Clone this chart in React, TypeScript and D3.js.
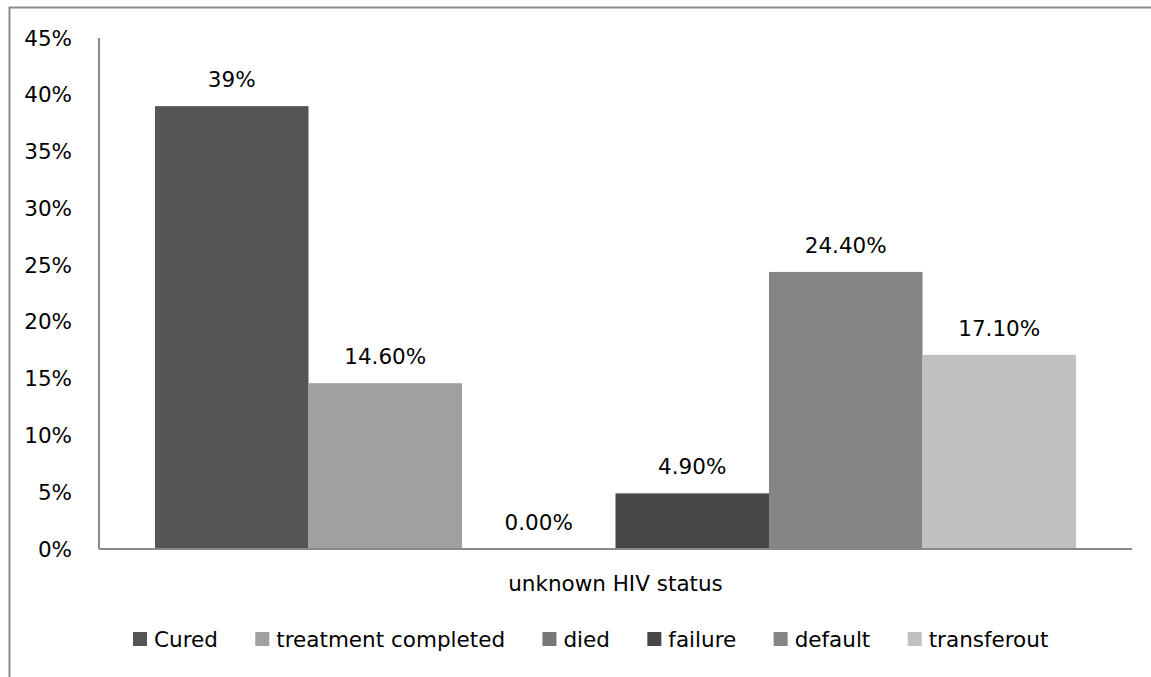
import React from "react";
import * as d3 from "d3";

const categories = ["unknown HIV status"];
const seriesNames = ["Cured", "treatment completed", "died", "failure", "default", "transferout"];
const seriesValues = [0.39, 0.146, 0.0, 0.049, 0.244, 0.171];
const valueLabels = ["39%", "14.60%", "0.00%", "4.90%", "24.40%", "17.10%"];
const seriesColors = ["#555555", "#a0a0a0", "#777777", "#474747", "#858585", "#c0c0c0"];
const yTicks = [0, 0.05, 0.1, 0.15, 0.2, 0.25, 0.3, 0.35, 0.4, 0.45];

const W = 1151;
const H = 677;
const FONT = "'DejaVu Sans', sans-serif";
const FS = 21.5;

function measure(text: string): number {
  const c = document.createElement("canvas");
  const ctx = c.getContext("2d");
  if (!ctx) return text.length * 11;
  ctx.font = `${FS}px 'DejaVu Sans'`;
  return ctx.measureText(text).width;
}

export default function App() {
  const plot = { left: 99, right: 1132, top: 38, bottom: 549 };
  const y = d3.scaleLinear().domain([0, 0.45]).range([plot.bottom, plot.top]);
  const x0 = d3
    .scaleBand<string>()
    .domain(categories)
    .range([plot.left, plot.right])
    .paddingInner(0)
    .paddingOuter(0.0608);
  const x1 = d3
    .scaleBand<string>()
    .domain(seriesNames)
    .range([0, x0.bandwidth()])
    .padding(0);

  // legend layout
  const sq = 14;
  const gapText = 7;
  const gapItem = 37.4;
  const widths = seriesNames.map((s) => measure(s));
  let cursor = 133;
  const legendItems = seriesNames.map((s, i) => {
    const item = { name: s, x: cursor, color: seriesColors[i] };
    cursor += sq + gapText + widths[i] + gapItem;
    return item;
  });

  const axisColor = "#8a8a8a";

  return (
    <svg
      width={W}
      height={H}
      style={{ position: "absolute", left: 0, top: 0, background: "#fff" }}
      fontFamily={FONT}
      fontSize={FS}
    >
      <rect x={0} y={0} width={W} height={H} fill="#fff" />
      {/* outer chart border (right/bottom outside the picture) */}
      <rect x={9.5} y={7.5} width={W + 20} height={H + 20} fill="none" stroke="#8c8c8c" strokeWidth={2} />

      {/* y tick labels */}
      {yTicks.map((t) => (
        <text key={t} x={72} y={y(t) + 7.5} textAnchor="end" fill="#000">
          {d3.format(".0%")(t)}
        </text>
      ))}

      {/* bars */}
      {categories.map((c) => (
        <g key={c} transform={`translate(${x0(c)},0)`}>
          {seriesNames.map((s, i) => (
            <rect
              key={s}
              x={x1(s)}
              y={y(seriesValues[i])}
              width={x1.bandwidth()}
              height={plot.bottom - y(seriesValues[i])}
              fill={seriesColors[i]}
            />
          ))}
          {seriesNames.map((s, i) => (
            <text
              key={s + "-lbl"}
              x={(x1(s) as number) + x1.bandwidth() / 2}
              y={y(seriesValues[i]) - 19}
              textAnchor="middle"
              fill="#000"
            >
              {valueLabels[i]}
            </text>
          ))}
        </g>
      ))}

      {/* axes */}
      <line x1={plot.left} x2={plot.left} y1={plot.top} y2={plot.bottom} stroke={axisColor} strokeWidth={2} />
      <line x1={plot.left} x2={plot.right} y1={plot.bottom} y2={plot.bottom} stroke={axisColor} strokeWidth={2} />

      {/* category label */}
      {categories.map((c) => (
        <text key={c} x={(x0(c) as number) + x0.bandwidth() / 2} y={591} textAnchor="middle" fill="#000">
          {c}
        </text>
      ))}

      {/* legend */}
      {legendItems.map((it) => (
        <g key={it.name}>
          <rect x={it.x} y={632} width={sq} height={sq} fill={it.color} />
          <text x={it.x + sq + gapText} y={647} fill="#000">
            {it.name}
          </text>
        </g>
      ))}
    </svg>
  );
}
